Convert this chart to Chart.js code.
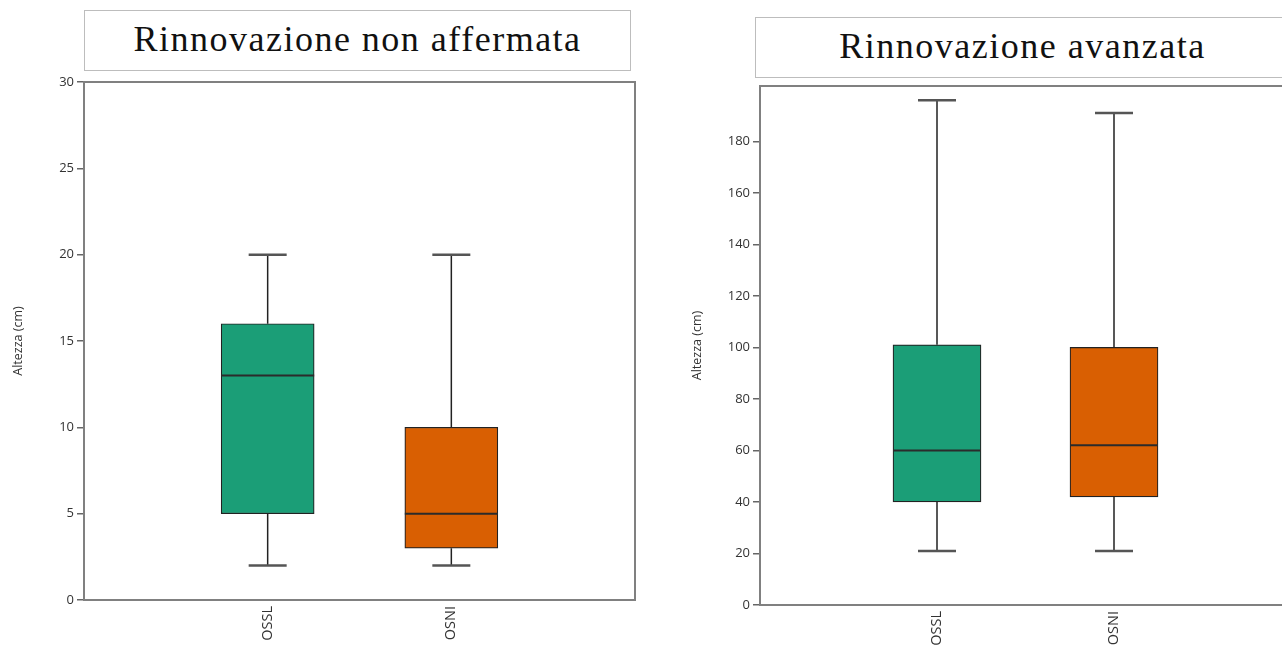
<!DOCTYPE html>
<html>
<head>
<meta charset="utf-8">
<script src="https://cdn.jsdelivr.net/npm/chart.js@4.4.1/dist/chart.umd.min.js"></script>
<style>
  html, body { margin: 0; padding: 0; background: #fff; overflow: hidden; }
  body { width: 1282px; height: 649px; position: relative; }
  canvas { position: absolute; top: 0; }
  #c1 { left: 0; }
  #c2 { left: 640px; }
  .titolo {
    position: absolute; box-sizing: border-box;
    border: 1.5px solid #bdbdbd; background: #fff;
    font-family: "Liberation Serif", "DejaVu Serif", serif;
    font-size: 36px; color: #111; text-align: center;
    letter-spacing: 1.5px; z-index: 2;
  }
  #t1 { left: 84px; top: 10px; width: 547px; height: 61px; line-height: 57px; }
  #t2 { left: 755px; top: 17px; width: 535px; height: 61px; line-height: 57px; }
</style>
</head>
<body>
<div class="titolo" id="t1">Rinnovazione non affermata</div>
<div class="titolo" id="t2">Rinnovazione avanzata</div>
<canvas id="c1" width="640" height="649"></canvas>
<canvas id="c2" width="660" height="649"></canvas>
<script>
// categorie e valori (min, Q1, mediana, Q3, max)
const categorie = ['OSSL', 'OSNI'];
const coloriBox = ['#1b9e77', '#d95f02'];

const nonAffMin = [2, 2];
const nonAffQ1 = [5, 3];
const nonAffMed = [13, 5];
const nonAffQ3 = [16, 10];
const nonAffMax = [20, 20];
const nonAffTicks = [0, 5, 10, 15, 20, 25, 30];

const avzMin = [21, 21];
const avzQ1 = [40, 42];
const avzMed = [60, 62];
const avzQ3 = [101, 100];
const avzMax = [196, 191];
const avzTicks = [0, 20, 40, 60, 80, 100, 120, 140, 160, 180];

// baffi, mediane e cornice
const baffiPlugin = {
    id: 'baffi',
    afterDatasetsDraw(chart, args, opt) {
        const ctx = chart.ctx;
        const x = chart.scales.x, y = chart.scales.y;
        const meta = chart.getDatasetMeta(0);
        ctx.save();
        opt.min.forEach((lo, i) => {
            const cx = x.getPixelForValue(i + 1);
            const bar = meta.data[i + 1];
            const half = bar.width / 2;
            // linee verticali
            ctx.strokeStyle = '#222';
            ctx.lineWidth = 1.5;
            ctx.beginPath();
            ctx.moveTo(cx, y.getPixelForValue(opt.max[i]));
            ctx.lineTo(cx, y.getPixelForValue(opt.q3[i]));
            ctx.moveTo(cx, y.getPixelForValue(opt.q1[i]));
            ctx.lineTo(cx, y.getPixelForValue(lo));
            ctx.stroke();
            // estremi
            ctx.strokeStyle = '#555';
            ctx.lineWidth = 2.5;
            ctx.beginPath();
            [lo, opt.max[i]].forEach(v => {
                const py = y.getPixelForValue(v);
                ctx.moveTo(cx - 19, py);
                ctx.lineTo(cx + 19, py);
            });
            ctx.stroke();
            // mediana
            ctx.strokeStyle = '#2b2b2b';
            ctx.lineWidth = 2;
            ctx.beginPath();
            const pm = y.getPixelForValue(opt.med[i]);
            ctx.moveTo(cx - half, pm);
            ctx.lineTo(cx + half, pm);
            ctx.stroke();
        });
        ctx.restore();
    },
    afterDraw(chart) {
        const a = chart.chartArea;
        const ctx = chart.ctx;
        ctx.save();
        ctx.strokeStyle = '#808080';
        ctx.lineWidth = 2;
        ctx.strokeRect(a.left, a.top, a.right - a.left, a.bottom - a.top);
        ctx.restore();
    }
};

function disegnaBox(id, cfg) {
    const ctx = document.getElementById(id).getContext('2d');
    const etichette = [''].concat(categorie, ['']);
    const dati = [null].concat(cfg.q1.map((v, i) => [v, cfg.q3[i]]), [null]);
    const colori = ['rgba(0,0,0,0)'].concat(coloriBox, ['rgba(0,0,0,0)']);

    return new Chart(ctx, {
        type: 'bar',
        data: {
            labels: etichette,
            datasets: [{
                data: dati,
                backgroundColor: colori,
                borderColor: '#222',
                borderWidth: 1.2,
                borderSkipped: false,
                barThickness: cfg.spessore
            }]
        },
        options: {
            responsive: false,
            animation: false,
            layout: { padding: { top: cfg.top, right: cfg.right, left: 0, bottom: 0 } },
            plugins: {
                legend: { display: false },
                tooltip: { enabled: false },
                baffi: { min: cfg.min, q1: cfg.q1, med: cfg.med, q3: cfg.q3, max: cfg.max }
            },
            scales: {
                x: {
                    offset: false,
                    grid: { display: false, drawTicks: false },
                    border: { display: false },
                    ticks: {
                        autoSkip: false, minRotation: 90, maxRotation: 90, padding: 6,
                        color: '#333', font: { family: 'Open Sans', size: 14.5 }
                    },
                    afterFit: s => {
                        s.height = cfg.xAltezza;
                        s.paddingLeft = 0;
                        s.paddingRight = 0;
                    }
                },
                y: {
                    min: 0,
                    max: cfg.yMax,
                    grid: { drawOnChartArea: false, drawTicks: true, tickLength: 7, color: '#666', lineWidth: 1.5 },
                    border: { display: false },
                    ticks: { padding: 3, color: '#333', font: { family: 'Open Sans', size: 13 } },
                    afterBuildTicks: s => { s.ticks = cfg.ticks.map(v => ({ value: v })); },
                    afterFit: s => {
                        s.width = cfg.yLarghezza;
                        s.paddingTop = 0;
                        s.paddingBottom = 0;
                    },
                    title: {
                        display: true, text: 'Altezza (cm)', color: '#333',
                        font: { family: 'Open Sans', size: 12.5 },
                        padding: { top: cfg.titoloPad, bottom: 0 }
                    }
                }
            }
        },
        plugins: [baffiPlugin]
    });
}

disegnaBox('c1', {
    min: nonAffMin, q1: nonAffQ1, med: nonAffMed, q3: nonAffQ3, max: nonAffMax,
    ticks: nonAffTicks, yMax: 30, spessore: 93,
    top: 82, right: 5, xAltezza: 49, yLarghezza: 84, titoloPad: 11
});

disegnaBox('c2', {
    min: avzMin, q1: avzQ1, med: avzMed, q3: avzQ3, max: avzMax,
    ticks: avzTicks, yMax: 201.5, spessore: 88,
    top: 86, right: 9, xAltezza: 44, yLarghezza: 120, titoloPad: 50
});
</script>
</body>
</html>
